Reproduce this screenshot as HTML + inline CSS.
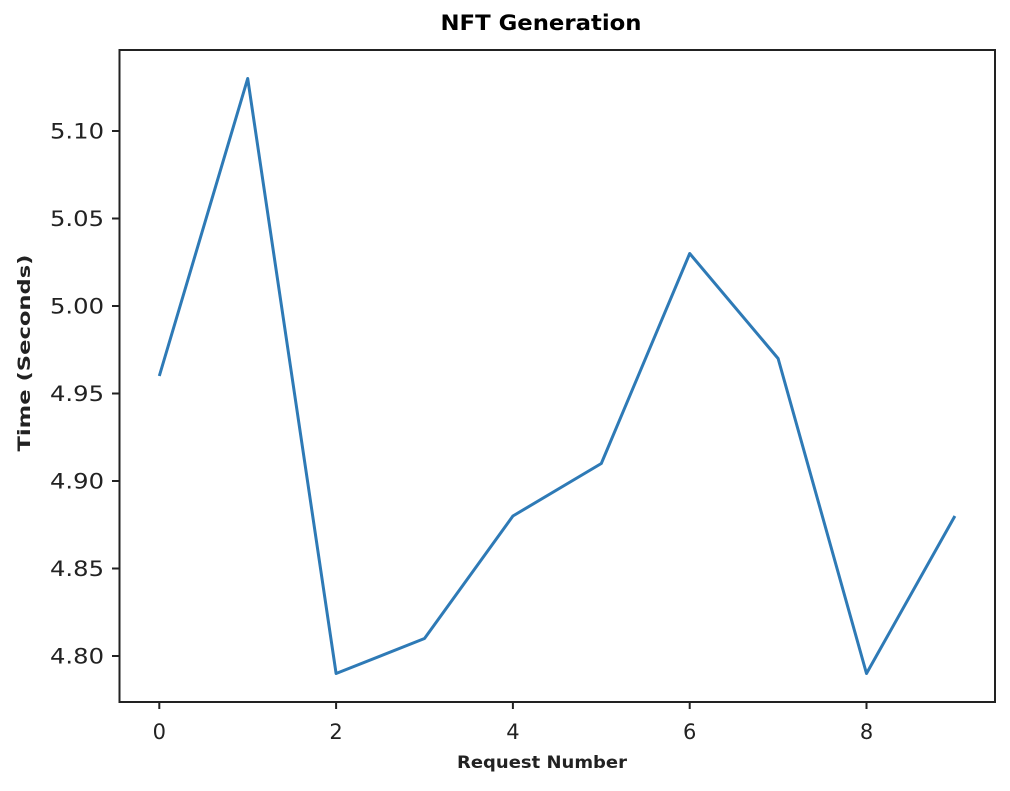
<!DOCTYPE html>
<html><head><style>body{margin:0;background:#fff}</style></head><body>
<svg width="1010" height="786" xmlns="http://www.w3.org/2000/svg" font-family="DejaVu Sans, Liberation Sans, sans-serif">
<rect width="1010" height="786" fill="#fff"/>
<text x="541" y="30" font-size="21" font-weight="bold" text-anchor="middle" fill="#000" textLength="201" lengthAdjust="spacingAndGlyphs">NFT Generation</text>
<rect x="119.5" y="50" width="875.5" height="652" fill="none" stroke="#222" stroke-width="2"/>
<g stroke="#222" stroke-width="2">
<line x1="159.3" y1="702" x2="159.3" y2="709"/><line x1="336.1" y1="702" x2="336.1" y2="709"/><line x1="512.9" y1="702" x2="512.9" y2="709"/><line x1="689.7" y1="702" x2="689.7" y2="709"/><line x1="866.5" y1="702" x2="866.5" y2="709"/>
<line x1="112" y1="131" x2="119.5" y2="131"/><line x1="112" y1="218.5" x2="119.5" y2="218.5"/><line x1="112" y1="306" x2="119.5" y2="306"/><line x1="112" y1="393.5" x2="119.5" y2="393.5"/><line x1="112" y1="481" x2="119.5" y2="481"/><line x1="112" y1="568.5" x2="119.5" y2="568.5"/><line x1="112" y1="656" x2="119.5" y2="656"/>
</g>
<g font-size="21" fill="#222" text-anchor="middle">
<text x="159.3" y="739">0</text><text x="336.1" y="739">2</text><text x="512.9" y="739">4</text><text x="689.7" y="739">6</text><text x="866.5" y="739">8</text>
</g>
<g font-size="21" fill="#222" text-anchor="end">
<text x="104" y="138.5" textLength="54" lengthAdjust="spacingAndGlyphs">5.10</text><text x="104" y="226" textLength="54" lengthAdjust="spacingAndGlyphs">5.05</text><text x="104" y="313.5" textLength="54" lengthAdjust="spacingAndGlyphs">5.00</text><text x="104" y="401" textLength="54" lengthAdjust="spacingAndGlyphs">4.95</text><text x="104" y="488.5" textLength="54" lengthAdjust="spacingAndGlyphs">4.90</text><text x="104" y="576" textLength="54" lengthAdjust="spacingAndGlyphs">4.85</text><text x="104" y="663.5" textLength="54" lengthAdjust="spacingAndGlyphs">4.80</text>
</g>
<text x="542" y="768" font-size="17" font-weight="bold" text-anchor="middle" fill="#222" textLength="170" lengthAdjust="spacingAndGlyphs">Request Number</text>
<text transform="translate(30,353) rotate(-90)" font-size="17" font-weight="bold" text-anchor="middle" fill="#222" textLength="197" lengthAdjust="spacingAndGlyphs">Time (Seconds)</text>
<polyline fill="none" stroke="#2e7ab6" stroke-width="3" stroke-linejoin="round" points="159.3,376 247.7,78.5 336.1,673.5 424.5,638.5 512.9,516 601.3,463.5 689.7,253.5 778.1,358.5 866.5,673.5 954.9,516"/>
</svg>
</body></html>
